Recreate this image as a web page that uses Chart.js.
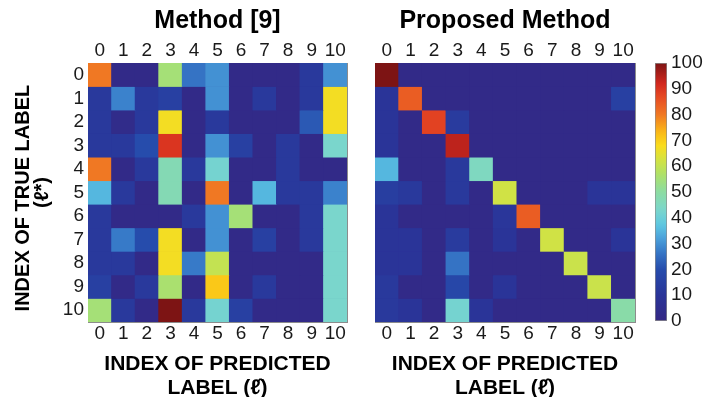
<!DOCTYPE html>
<html>
<head>
<meta charset="utf-8">
<script src="https://cdn.jsdelivr.net/npm/chart.js@4/dist/chart.umd.min.js"></script>
<style>
  html, body { margin: 0; padding: 0; background: #ffffff; width: 707px; height: 397px; overflow: hidden; }
  canvas { position: absolute; top: 0; }
</style>
</head>
<body>
<canvas id="leftChart" width="350" height="397" style="left:0px"></canvas>
<canvas id="rightChart" width="280" height="397" style="left:360px"></canvas>
<canvas id="colorbar" width="67" height="397" style="left:640px"></canvas>
<script>
// ---------------- data ----------------
const predictedLabels = ['0','1','2','3','4','5','6','7','8','9','10'];
const trueLabels      = ['0','1','2','3','4','5','6','7','8','9','10'];
const colorbarTicks   = [0,10,20,30,40,50,60,70,80,90,100];

// Method [9]: rows = true label, columns = predicted label (percent)
const method9 = [
  [80,  2,  2, 55, 26, 30,  2,  2,  2, 12, 30],
  [12, 28, 12, 15,  2, 30,  2, 12,  2, 12, 67],
  [12,  3, 12, 67,  2, 12,  2,  2,  2, 22, 67],
  [12, 12, 20, 90,  2, 30, 15,  2, 12,  2, 43],
  [80,  2, 12, 47, 12, 42,  2,  2, 12,  2,  2],
  [35, 12,  2, 47,  2, 80,  2, 35, 12, 12, 28],
  [12,  2,  2,  2, 12, 30, 55,  2,  2, 12, 43],
  [12, 27, 20, 67,  2, 30,  2, 15,  2, 12, 43],
  [12, 12,  2, 67, 27, 60,  2,  2,  2,  2, 43],
  [15,  2, 12, 56,  2, 71,  2, 12,  2,  2, 43],
  [55, 12,  2,100, 12, 42, 15,  2,  2,  2, 43]
];
// Proposed method
const proposed = [
  [100, 2,  2,  2,  2,  2,  2,  2,  2,  2,  2],
  [10, 84,  2,  2,  2,  2,  2,  2,  2,  2, 15],
  [10,  2, 88, 13,  2,  2,  2,  2,  2,  2,  2],
  [10,  2,  2, 94,  2,  2,  2,  2,  2,  2,  2],
  [35,  2,  2, 12, 45,  2,  2,  2,  2,  2,  2],
  [14, 12,  2, 12,  2, 62,  2,  2,  2, 10, 10],
  [10,  2,  2,  2,  2, 11, 84,  2,  2,  2,  2],
  [10, 10,  2, 13,  2, 10,  2, 62,  2,  2, 10],
  [10, 10,  2, 26,  2,  2,  2,  2, 61,  2,  2],
  [12,  2,  2, 18,  2, 10,  2,  2,  2, 61,  2],
  [12, 10,  2, 42, 10,  2,  2,  2,  2,  2, 49]
];

// ---------------- styling ----------------
const cmapStops = [
  [0.00, [52, 40, 132]],
  [0.10, [42, 52, 152]],
  [0.20, [38, 76, 172]],
  [0.27, [55, 122, 200]],
  [0.32, [75, 160, 218]],
  [0.37, [92, 198, 226]],
  [0.43, [122, 214, 204]],
  [0.50, [140, 220, 162]],
  [0.57, [175, 225, 102]],
  [0.63, [215, 226, 62]],
  [0.68, [250, 220, 28]],
  [0.73, [250, 186, 22]],
  [0.80, [240, 120, 35]],
  [0.87, [230, 72, 35]],
  [0.92, [210, 40, 30]],
  [1.00, [125, 20, 20]]
];
function colorFor(v) {
  const t = Math.max(0, Math.min(1, v / 100));
  for (let i = 1; i < cmapStops.length; i++) {
    const [t1, c1] = cmapStops[i];
    const [t0, c0] = cmapStops[i - 1];
    if (t <= t1) {
      const f = (t - t0) / (t1 - t0);
      const c = c0.map((a, k) => Math.round(a + (c1[k] - a) * f));
      return `rgb(${c[0]},${c[1]},${c[2]})`;
    }
  }
  const c = cmapStops[cmapStops.length - 1][1];
  return `rgb(${c[0]},${c[1]},${c[2]})`;
}

Chart.defaults.font.family = "'Liberation Sans', Arial, Helvetica, sans-serif";
Chart.defaults.color = '#1a1a1a';
const FRAME = '#8c8c8c';
const tickFont = { size: 19 };
const PLOT_TOP = 63, PLOT_BOTTOM = 322, H = 397;
const TITLE_FONT = { size: 25, weight: 'bold', lineHeight: 1.2 };
const TITLE_PAD = { top: 6, bottom: 0 };
const titleBox = TITLE_FONT.size * TITLE_FONT.lineHeight + TITLE_PAD.top + TITLE_PAD.bottom;

const plotBackground = {
  id: 'plotBackground',
  beforeDatasetsDraw(chart) {
    const { ctx, chartArea: a } = chart;
    ctx.save();
    ctx.fillStyle = colorFor(0);
    ctx.fillRect(a.left, a.top, a.right - a.left, a.bottom - a.top);
    ctx.restore();
  }
};

function matrixChart(canvasId, titleText, values, leftWidth, showYLabels, padRight) {
  const datasets = trueLabels.map((t, r) => ({
    label: 'True ' + t,
    data: predictedLabels.map(() => 1),
    backgroundColor: values[r].map(colorFor),
    borderWidth: 0,
    barPercentage: 1,
    categoryPercentage: 1,
    stack: 'rows'
  }));
  return new Chart(document.getElementById(canvasId), {
    type: 'bar',
    data: { labels: predictedLabels, datasets },
    plugins: [plotBackground],
    options: {
      responsive: false,
      animation: false,
      layout: { padding: { left: 0, right: padRight, top: 0, bottom: 0 } },
      plugins: {
        legend: { display: false },
        tooltip: { enabled: false },
        title: {
          display: true, text: titleText, fullSize: false,
          font: TITLE_FONT, padding: TITLE_PAD, color: '#000'
        }
      },
      scales: {
        x: {
          type: 'category', position: 'bottom', stacked: true, offset: true,
          grid: { display: false, drawTicks: false },
          border: { display: true, color: FRAME },
          ticks: { font: tickFont, padding: 0, maxRotation: 0, autoSkip: false },
          title: {
            display: true, text: ['INDEX OF PREDICTED', 'LABEL (\u2113\u0302)'],
            font: { size: 21, weight: 'bold', lineHeight: 1.15 },
            padding: { top: 0, bottom: -3 }, color: '#000'
          },
          afterFit: s => { s.height = H - PLOT_BOTTOM; }
        },
        x2: {
          type: 'category', position: 'top', offset: true,
          grid: { display: false, drawTicks: false },
          border: { display: true, color: FRAME },
          ticks: { font: tickFont, padding: 1, maxRotation: 0, autoSkip: false },
          afterFit: s => { s.height = PLOT_TOP - titleBox; }
        },
        y: {
          type: 'linear', position: 'left', stacked: true, reverse: true, min: 0, max: trueLabels.length,
          afterBuildTicks: s => { s.ticks = trueLabels.map((t, i) => ({ value: i + 0.5 })); },
          grid: { display: false, drawTicks: false },
          border: { display: true, color: FRAME },
          ticks: { display: showYLabels, font: tickFont, padding: 4, autoSkip: false,
                   callback: (v, i) => trueLabels[i] },
          title: {
            display: showYLabels, text: ['INDEX OF TRUE LABEL  ', '(\u2113*)'],
            font: { size: 20, weight: 'bold', lineHeight: 0.95 },
            padding: { top: 14, bottom: 0 }, color: '#000'
          },
          afterFit: s => { s.width = leftWidth; }
        },
        y2: {
          type: 'linear', position: 'right', min: 0, max: trueLabels.length,
          grid: { display: false, drawTicks: false },
          border: { display: true, color: FRAME },
          ticks: { display: false },
          afterFit: s => { s.width = 0; }
        }
      }
    }
  });
}

matrixChart('leftChart', 'Method [9]', method9, 88, true, 3);
matrixChart('rightChart', 'Proposed Method', proposed, 15, false, 5);

// ---------------- colorbar ----------------
new Chart(document.getElementById('colorbar'), {
  type: 'bar',
  data: {
    labels: [''],
    datasets: [{
      data: [[colorbarTicks[0], colorbarTicks[colorbarTicks.length - 1]]],
      backgroundColor: (ctx) => {
        const chart = ctx.chart;
        if (!chart.chartArea) return colorFor(50);
        const y = chart.scales.y;
        const p0 = y.getPixelForValue(colorbarTicks[0]);
        const p1 = y.getPixelForValue(colorbarTicks[colorbarTicks.length - 1]);
        const g = chart.ctx.createLinearGradient(0, p0, 0, p1);
        for (let k = 0; k <= 50; k++) g.addColorStop(k / 50, colorFor(k * 2));
        return g;
      },
      borderColor: FRAME,
      borderWidth: 1,
      borderSkipped: false,
      barPercentage: 1,
      categoryPercentage: 1
    }]
  },
  options: {
    responsive: false,
    animation: false,
    layout: { padding: { left: 15, top: PLOT_TOP, bottom: H - 321, right: 0 } },
    plugins: { legend: { display: false }, tooltip: { enabled: false } },
    scales: {
      x: { display: false },
      y: {
        position: 'right', min: 0, max: 100,
        afterBuildTicks: s => { s.ticks = colorbarTicks.map(v => ({ value: v })); },
        grid: { display: false, drawTicks: false },
        border: { display: false },
        ticks: { font: tickFont, padding: 4, autoSkip: false },
        afterFit: s => { s.width = 40; }
      }
    }
  }
});
</script>
</body>
</html>
